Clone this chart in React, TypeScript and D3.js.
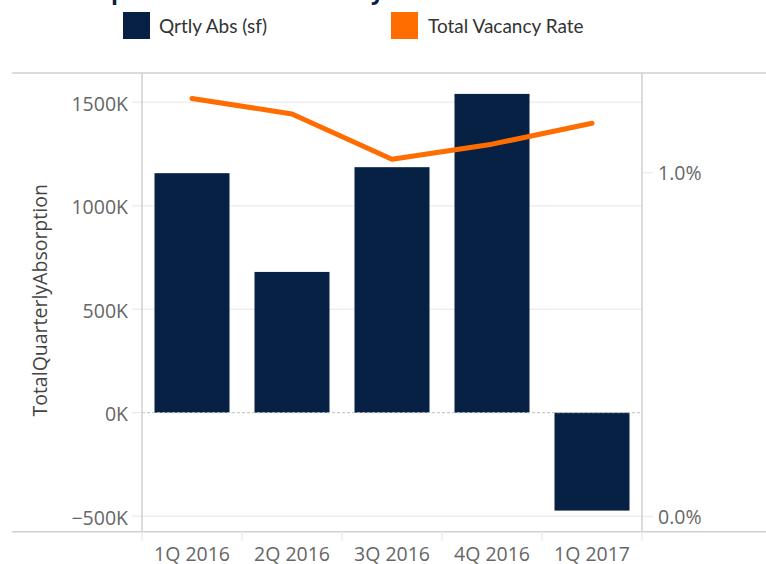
import React from "react";
import * as d3 from "d3";

const categories = ["1Q 2016", "2Q 2016", "3Q 2016", "4Q 2016", "1Q 2017"];
const absorption = [1157000, 680000, 1186000, 1540000, -473000];
const vacancy = [0.01216, 0.01171, 0.01039, 0.01083, 0.01144];
const leftTicks = [-500000, 0, 500000, 1000000, 1500000];
const rightTicks = [0, 0.01];
const legendLabels = ["Qrtly Abs (sf)", "Total Vacancy Rate"];
const titleText = "Absorption and Total Vacancy";

const NAVY = "#062143";
const ORANGE = "#ff6d00";
const AXIS = "#cfcfcf";
const GRID = "#eeeeee";
const TXT = "#666666";
const FONT = "'Open Sans', sans-serif";
const LFONT = "Lato, 'Open Sans', sans-serif";

export default function App() {
  const W = 766, H = 564;
  const left = 142, right = 642, top = 73, bottom = 531.7;
  const x = d3.scaleBand<string>().domain(categories).range([left, right]).paddingInner(0.25).paddingOuter(0.125);
  const yL = d3.scaleLinear().domain([-575000, 1641000]).range([bottom, top]);
  const yR = d3.scaleLinear().domain([-0.00044, 0.0129]).range([bottom, top]);
  const line = d3.line<number>()
    .x((_, i) => (x(categories[i]) as number) + x.bandwidth() / 2)
    .y((d) => yR(d));
  const fmtK = (v: number) => `${d3.format("d")(v / 1000)}K`;
  const fmtP = d3.format(".1%");
  const step = x.step();

  return (
    <svg width={W} height={H} style={{ position: "absolute", left: 0, top: 0, background: "#fff" }}>
      <text x={45} y={-1.5} fontFamily={FONT} fontWeight={700} fontSize={22.8} fill={NAVY}>{titleText}</text>
      {/* legend */}
      <rect x={123} y={12} width={27} height={27} fill={NAVY} />
      <text x={159} y={32.5} fontFamily={LFONT} fontSize={19} fill="#333">{legendLabels[0]}</text>
      <rect x={391} y={12} width={27} height={27} fill={ORANGE} />
      <text x={428} y={32.5} fontFamily={LFONT} fontSize={19} fill="#333">{legendLabels[1]}</text>

      {/* gridlines */}
      {leftTicks.filter((t) => t !== 0).map((t) => (
        <line key={t} x1={132} x2={right} y1={yL(t)} y2={yL(t)} stroke={GRID} strokeWidth={1.5} />
      ))}
      <line x1={132} x2={left} y1={yL(0)} y2={yL(0)} stroke={GRID} strokeWidth={1.5} />
      {rightTicks.map((t) => (
        <line key={t} x1={right} x2={653} y1={yR(t)} y2={yR(t)} stroke={GRID} strokeWidth={1.5} />
      ))}

      {/* bars */}
      {absorption.map((v, i) => (
        <rect key={i} x={x(categories[i])} width={x.bandwidth()}
          y={Math.min(yL(v), yL(0))} height={Math.abs(yL(v) - yL(0))} fill={NAVY} />
      ))}
      <line x1={left} x2={right} y1={yL(0)} y2={yL(0)} stroke="#bdbdbd" strokeWidth={1} strokeDasharray="3,2" />

      {/* frame */}
      <line x1={12} x2={W} y1={top} y2={top} stroke={AXIS} strokeWidth={1.5} />
      <line x1={12} x2={W} y1={bottom} y2={bottom} stroke={AXIS} strokeWidth={1.5} />
      <line x1={left} x2={left} y1={top} y2={bottom} stroke={AXIS} strokeWidth={1.5} />
      <line x1={right} x2={right} y1={top} y2={bottom} stroke={AXIS} strokeWidth={1.5} />
      {d3.range(categories.length + 1).map((i) => (
        <line key={i} x1={left + i * step} x2={left + i * step} y1={bottom} y2={541} stroke={GRID} strokeWidth={1.5} />
      ))}

      {/* vacancy line */}
      <path d={line(vacancy) || ""} fill="none" stroke={ORANGE} strokeWidth={5} strokeLinecap="round" strokeLinejoin="round" />

      {/* axis labels */}
      {leftTicks.map((t) => (
        <text key={t} x={128} y={yL(t) + 8.5} textAnchor="end" fontFamily={FONT} fontSize={19.5} fill={TXT}>{fmtK(t)}</text>
      ))}
      {rightTicks.map((t) => (
        <text key={t} x={658} y={yR(t) + 7.5} fontFamily={FONT} fontSize={19.5} fill={TXT}>{fmtP(t)}</text>
      ))}
      {categories.map((c) => (
        <text key={c} x={(x(c) as number) + x.bandwidth() / 2} y={561} textAnchor="middle" fontFamily={FONT} fontSize={19.5} fill={TXT}>{c}</text>
      ))}
      <text transform={`translate(42,${(top + bottom) / 2 - 2}) rotate(-90)`} textAnchor="middle" dominantBaseline="middle" fontFamily={FONT} fontSize={19.5} fill="#444">TotalQuarterlyAbsorption</text>
    </svg>
  );
}
